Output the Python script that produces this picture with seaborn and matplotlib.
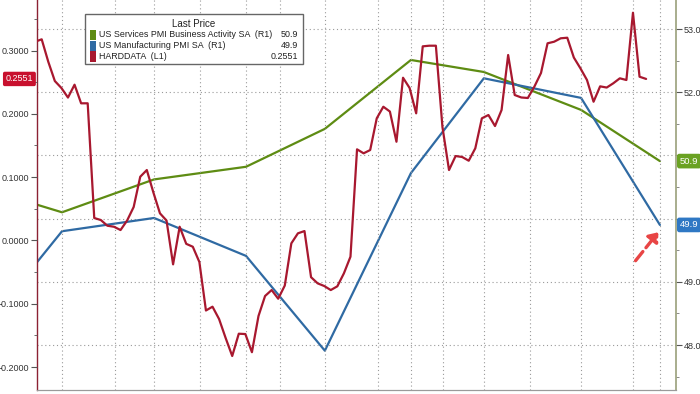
"""Hard data surprise index vs US PMIs (Bloomberg-style chart)."""

import matplotlib.pyplot as plt
import matplotlib.transforms as mtransforms
import numpy as np
import pandas as pd
import seaborn as sns
from matplotlib.patches import FancyArrowPatch, Rectangle

# weekly HARDDATA index (left axis)
harddata = [
    0.3139, 0.3177, 0.2823, 0.2518, 0.2408, 0.2257, 0.2460, 0.2166, 0.2166, 0.0354,
    0.0322, 0.0232, 0.0216, 0.0164, 0.0314, 0.0528, 0.1006, 0.1112, 0.0757, 0.0428,
    0.0314, -0.0378, 0.0216, -0.0054, -0.0100, -0.0341, -0.1107, -0.1047, -0.1242, -0.1542,
    -0.1826, -0.1474, -0.1479, -0.1766, -0.1194, -0.0878, -0.0784, -0.0921, -0.0713,
    -0.0046, 0.0112, 0.0148, -0.0581, -0.0678, -0.0720, -0.0784, -0.0725, -0.0520, -0.0257,
    0.1439, 0.1376, 0.1428, 0.1929, 0.2112, 0.2036, 0.1559, 0.2570, 0.2408, 0.2008,
    0.3066, 0.3076, 0.3076, 0.1791, 0.1112, 0.1333, 0.1318, 0.1259, 0.1455, 0.1929,
    0.1981, 0.1807, 0.2060, 0.2929, 0.2297, 0.2258, 0.2250, 0.2431, 0.2645, 0.3114,
    0.3139, 0.3193, 0.3202, 0.2889, 0.2719, 0.2534, 0.2191, 0.2434, 0.2415, 0.2482,
    0.2561, 0.2534, 0.3597, 0.2586, 0.2551,
]
harddata_week = np.arange(len(harddata))

# monthly PMI prints (right axis), positioned on the same week axis
pmi_week = [0.285, 4.09, 18.1, 32.1, 44.1, 57.2, 68.3, 83.1, 95.1]
services_pmi = [50.22, 50.10, 50.62, 50.82, 51.42, 52.51, 52.32, 51.72, 50.91]
manufacturing_pmi = [49.31, 49.80, 50.01, 49.41, 47.91, 50.72, 52.22, 51.91, 49.90]

date_ticks = [4.09, 12.16, 18.1, 25.1, 32.1, 37.3, 44.1, 52.2, 57.2, 62.1,
              68.3, 75.3, 83.1, 91.0, 95.1]

legend_labels = ["US Services PMI Business Activity SA  (R1)",
                 "US Manufacturing PMI SA  (R1)",
                 "HARDDATA  (L1)"]
legend_values = ["50.9", "49.9", "0.2551"]

GREEN = "#5e8c13"
BLUE = "#2f6aa3"
RED = "#a8182f"

sns.set_style("white")
plt.rcParams["font.family"] = ["Liberation Sans", "DejaVu Sans"]

hard_df = pd.DataFrame({"week": harddata_week, "value": harddata})
pmi_df = pd.DataFrame({"week": pmi_week, "services": services_pmi,
                       "manufacturing": manufacturing_pmi})

fig = plt.figure(figsize=(7, 3.94), dpi=100)
ax = fig.add_axes([37 / 700, 4 / 394, 639 / 700, 390 / 394])
ax2 = ax.twinx()

sns.lineplot(data=pmi_df, x="week", y="services", color=GREEN, linewidth=1.6, ax=ax2)
sns.lineplot(data=pmi_df, x="week", y="manufacturing", color=BLUE, linewidth=1.6, ax=ax2)
sns.lineplot(data=hard_df, x="week", y="value", color=RED, linewidth=1.6, ax=ax)
ax.set_zorder(ax2.get_zorder() + 1)
ax.patch.set_visible(False)

ax.set_xlim(0.285, 97.55)
ax.set_ylim(-0.2363, 0.3798)
ax2.set_ylim(47.288, 53.459)

# left axis
ax.set_yticks([-0.2, -0.1, 0.0, 0.1, 0.2, 0.3])
ax.set_yticks(np.arange(-0.2, 0.36, 0.05), minor=True)
ax.yaxis.set_major_formatter(plt.FuncFormatter(lambda v, _: f"{v:.4f}"))
ax.tick_params(axis="y", which="major", length=4, width=0.8, labelsize=6.5,
               labelcolor="#333333", color="#555555", pad=1.5)
ax.tick_params(axis="y", which="minor", length=2, width=0.6, color="#555555")

# right axis (51.0 and 50.0 sit under the last-price tags)
ax2.set_yticks([48, 49, 50, 51, 52, 53])
ax2.set_yticks(np.arange(47.5, 53.5, 0.5), minor=True)
ax2.set_yticklabels(["48.0", "49.0", "", "", "52.0", "53.0"])
ax2.tick_params(axis="y", which="major", length=4, width=0.8, labelsize=6.5,
                labelcolor="#333333", color="#555555", pad=1.5)
ax2.tick_params(axis="y", which="minor", length=2, width=0.6, color="#777777")

# x axis: date ticks (labels fall outside the cropped image)
ax.set_xticks(date_ticks)
ax.set_xticklabels([])
ax.tick_params(axis="x", length=3, width=0.6, color="#777777")
ax.set_xlabel("")
ax.set_ylabel("")
ax2.set_ylabel("")

ax.xaxis.grid(True, color="#9a9a9a", linestyle=(0, (1, 2.5)), linewidth=0.8)
ax2.yaxis.grid(True, color="#9a9a9a", linestyle=(0, (1, 2.5)), linewidth=0.8)
ax.yaxis.grid(False)
ax2.xaxis.grid(False)

for a in (ax, ax2):
    a.spines["top"].set_visible(False)
    a.spines["bottom"].set_color("#9a9a9a")
ax2.spines["left"].set_color("#8c2233")
ax2.spines["left"].set_linewidth(1.0)
ax2.spines["right"].set_color("#9aa07a")
ax2.spines["right"].set_linewidth(1.2)
ax.spines["left"].set_visible(False)
ax.spines["right"].set_visible(False)

# last-price tags
left_tr = mtransforms.blended_transform_factory(ax.transAxes, ax.transData)
ax.text(-0.006, harddata[-1], legend_values[2], transform=left_tr, ha="right",
        va="center", fontsize=6.5, color="white", zorder=10, clip_on=False,
        bbox=dict(boxstyle="round,pad=0.3,rounding_size=0.2", fc="#c8102e", ec="none"))
right_tr = mtransforms.blended_transform_factory(ax2.transAxes, ax2.transData)
ax2.text(1.006, services_pmi[-1], legend_values[0], transform=right_tr, ha="left",
         va="center", fontsize=6.8, color="white", zorder=10, clip_on=False,
         bbox=dict(boxstyle="round,pad=0.3,rounding_size=0.25", fc="#6aa222", ec="none"))
ax2.text(1.006, manufacturing_pmi[-1], legend_values[1], transform=right_tr, ha="left",
         va="center", fontsize=6.8, color="white", zorder=10, clip_on=False,
         bbox=dict(boxstyle="round,pad=0.3,rounding_size=0.25", fc="#2f78c4", ec="none"))

# legend box
ax.add_patch(Rectangle((0.0751, 0.836), 0.3412, 0.128, transform=ax.transAxes,
                       facecolor="white", edgecolor="#666666", linewidth=1.0, zorder=8))
ax.text(0.2457, 0.939, "Last Price", transform=ax.transAxes, ha="center", va="center",
        fontsize=7, color="#222222", zorder=9)
rows_y = [0.911, 0.883, 0.855]
for label, value, color, y in zip(legend_labels, legend_values, [GREEN, BLUE, RED], rows_y):
    ax.add_patch(Rectangle((0.0825, y - 0.013), 0.0105, 0.026, transform=ax.transAxes,
                           facecolor=color, edgecolor="none", zorder=9))
    ax.text(0.0965, y, label, transform=ax.transAxes, ha="left", va="center",
            fontsize=6.4, color="#222222", zorder=9)
    ax.text(0.408, y, value, transform=ax.transAxes, ha="right", va="center",
            fontsize=6.4, color="#222222", zorder=9)

# dashed pointer arrow to the latest manufacturing print
ax.add_patch(FancyArrowPatch((0.934, 0.326), (0.975, 0.410), transform=ax.transAxes,
                             arrowstyle="-|>,head_length=5,head_width=4", color="#e84545",
                             linewidth=2.4, linestyle=(0, (3.5, 1.5)), zorder=9))

fig.savefig("out.png", dpi=100)
